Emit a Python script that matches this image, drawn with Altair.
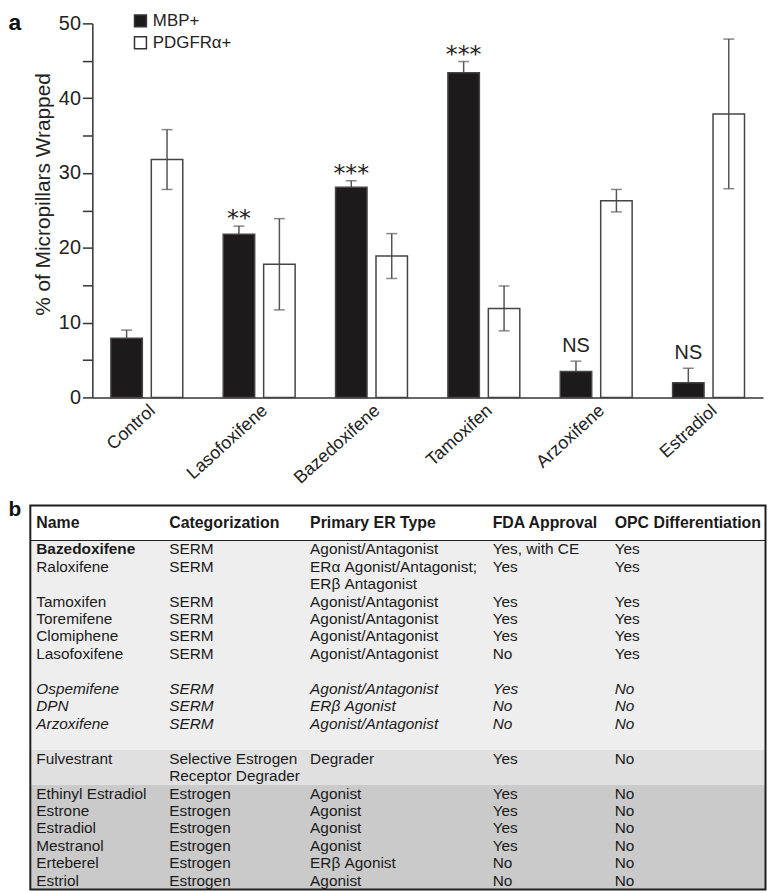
import altair as alt
import pandas as pd

# ---------------- panel a data ----------------
treatments = ["Control", "Lasofoxifene", "Bazedoxifene", "Tamoxifen", "Arzoxifene", "Estradiol"]
series = ["MBP+", "PDGFRα+"]
mbp_mean = [7.9, 21.8, 28.1, 43.4, 3.45, 1.95]
mbp_err = [1.1, 1.1, 0.85, 1.5, 1.4, 1.95]
pdgfr_mean = [31.8, 17.8, 18.9, 11.9, 26.3, 37.9]
pdgfr_err = [4.0, 6.1, 3.0, 3.0, 1.5, 10.0]
significance = ["", "**", "***", "***", "NS", "NS"]

# ---------------- panel b data ----------------
tbl_headers = ["Name", "Categorization", "Primary ER Type", "FDA Approval", "OPC Differentiation"]
tbl_names = ["Bazedoxifene", "Raloxifene", "Tamoxifen", "Toremifene", "Clomiphene", "Lasofoxifene",
             "Ospemifene", "DPN", "Arzoxifene", "Fulvestrant",
             "Ethinyl Estradiol", "Estrone", "Estradiol", "Mestranol", "Erteberel", "Estriol"]
tbl_category = ["SERM", "SERM", "SERM", "SERM", "SERM", "SERM",
                "SERM", "SERM", "SERM", "Selective Estrogen\nReceptor Degrader",
                "Estrogen", "Estrogen", "Estrogen", "Estrogen", "Estrogen", "Estrogen"]
tbl_ertype = ["Agonist/Antagonist", "ERα Agonist/Antagonist;\nERβ Antagonist", "Agonist/Antagonist",
              "Agonist/Antagonist", "Agonist/Antagonist", "Agonist/Antagonist",
              "Agonist/Antagonist", "ERβ Agonist", "Agonist/Antagonist", "Degrader",
              "Agonist", "Agonist", "Agonist", "Agonist", "ERβ Agonist", "Agonist"]
tbl_fda = ["Yes, with CE", "Yes", "Yes", "Yes", "Yes", "No",
           "Yes", "No", "No", "Yes",
           "Yes", "Yes", "Yes", "Yes", "No", "No"]
tbl_opc = ["Yes", "Yes", "Yes", "Yes", "Yes", "Yes",
           "No", "No", "No", "No",
           "No", "No", "No", "No", "No", "No"]
tbl_group = [1, 1, 1, 1, 1, 1, 2, 2, 2, 3, 4, 4, 4, 4, 4, 4]
group_blank_after = {1: 1, 2: 1, 3: 0, 4: 0}
group_fill = {1: "#eeeeee", 2: "#eeeeee", 3: "#e0e0e0", 4: "#cacaca"}

FONT = "Liberation Sans"
INK = "#222222"

# ---------------- panel a ----------------
rows = []
for i, t in enumerate(treatments):
    rows.append(dict(treatment=t, series=series[0], mean=mbp_mean[i], err=mbp_err[i], sig=significance[i]))
    rows.append(dict(treatment=t, series=series[1], mean=pdgfr_mean[i], err=pdgfr_err[i], sig=""))
bars = pd.DataFrame(rows)
bars["lo"] = bars["mean"] - bars["err"]
bars["hi"] = bars["mean"] + bars["err"]

x_enc = alt.X("treatment:N", sort=treatments,
              scale=alt.Scale(paddingInner=0.36, paddingOuter=0.165),
              axis=alt.Axis(title=None, labelAngle=318, labelAlign="right", labelBaseline="top",
                            labelFontSize=18, labelFont=FONT, labelColor=INK, labelPadding=4,
                            labelOffset=0, ticks=False, domainColor="#333333", domainWidth=1.5))
xo_enc = alt.XOffset("series:N", sort=series, scale=alt.Scale(paddingInner=0.222, paddingOuter=0))
y_scale = alt.Scale(domain=[0, 50], nice=False, zero=True)
y_axis = alt.Axis(title="% of Micropillars Wrapped", values=list(range(0, 55, 5)),
                  labelExpr="datum.value % 10 === 0 ? datum.label : ''",
                  grid=False, tickSize=10, tickWidth=1.5, tickColor="#333333",
                  domainColor="#333333", domainWidth=1.5,
                  labelFontSize=20, labelFont=FONT, labelColor=INK, labelPadding=2,
                  titleFontSize=21, titleFont=FONT, titleFontWeight="normal", titleColor=INK,
                  titlePadding=5, titleY=172)

base = alt.Chart(bars).encode(x=x_enc, xOffset=xo_enc)

err_rule = base.mark_rule(color="#555555", strokeWidth=1.5).encode(
    y=alt.Y("lo:Q", scale=y_scale, axis=y_axis), y2="hi:Q")
cap_hi = base.mark_tick(color="#555555", thickness=1.5, size=11).encode(
    y=alt.Y("hi:Q", scale=y_scale, axis=y_axis))
cap_lo = base.mark_tick(color="#555555", thickness=1.5, size=11).encode(
    y=alt.Y("lo:Q", scale=y_scale, axis=y_axis))
bar = base.mark_bar(stroke="#444444", strokeWidth=1.5).encode(
    y=alt.Y("mean:Q", scale=y_scale, axis=y_axis),
    fill=alt.Fill("series:N", sort=series,
                  scale=alt.Scale(domain=series, range=["#1c1a1a", "rgba(255,255,255,0)"]),
                  legend=alt.Legend(title=None, orient="none", legendX=40, legendY=-11,
                                    symbolType="square", symbolSize=144,
                                    symbolStrokeColor="#333333", symbolStrokeWidth=1.5,
                                    labelFontSize=17, labelFont=FONT, labelColor=INK,
                                    labelOffset=4, rowPadding=3, padding=0)))
stars = base.transform_filter("indexof(datum.sig, '*') >= 0").mark_text(
    font="DejaVu Sans", fontSize=24, baseline="alphabetic", dy=0, color=INK).encode(
    y=alt.Y("hi:Q", scale=y_scale, axis=y_axis), text="sig:N")
ns = base.transform_filter("datum.sig == 'NS'").mark_text(
    font=FONT, fontSize=20, baseline="alphabetic", dy=-9, color=INK).encode(
    y=alt.Y("hi:Q", scale=y_scale, axis=y_axis), text="sig:N")
label_a = alt.Chart(pd.DataFrame({"lab": ["a"]})).mark_text(
    font=FONT, fontSize=23, fontWeight="bold", align="left", baseline="alphabetic", color="#111111").encode(
    x=alt.value(-84.5), y=alt.value(6.5), text="lab:N")

panel_a = alt.layer(err_rule, cap_hi, cap_lo, bar, stars, ns, label_a).properties(width=676, height=377)

# ---------------- panel b ----------------
recs = []
bands = []
line = 0
cur_group = None
group_start = 0
for i, nm in enumerate(tbl_names):
    g = tbl_group[i]
    if g != cur_group:
        cur_group = g
        group_start = line
    cells = [nm, tbl_category[i], tbl_ertype[i], tbl_fda[i], tbl_opc[i]]
    nlines = max(len(c.split("\n")) for c in cells)
    for c, cell in enumerate(cells):
        for k, part in enumerate(cell.split("\n")):
            if g == 2:
                style = "italic"
            elif i == 0 and c == 0:
                style = "bold"
            else:
                style = "normal"
            recs.append(dict(line=line + k, col=c, text=part, style=style))
    line += nlines
    last_of_group = (i == len(tbl_names) - 1) or (tbl_group[i + 1] != g)
    if last_of_group:
        line += group_blank_after[g]
        y0, y1 = group_start - 0.5, line - 0.5
        if bands and bands[-1]["fill"] == group_fill[g]:
            bands[-1]["y1"] = y1  # merge shading of consecutive groups with the same tone
        else:
            bands.append(dict(y0=y0, y1=y1, x0=-1, x1=len(tbl_headers), fill=group_fill[g]))

cells_df = pd.DataFrame(recs)
bands_df = pd.DataFrame(bands)
y_min = -2.5
y_max = line - 0.5
header_df = pd.DataFrame(dict(line=[-1.5] * len(tbl_headers), col=list(range(len(tbl_headers))), text=tbl_headers))
frame_df = pd.DataFrame(dict(y0=[y_min], y1=[y_max], x0=[-1], x1=[len(tbl_headers)], sep=[-0.5]))

xs = alt.Scale(domain=[-1, 0, 1, 2, 3, 4, 5], range=[-62.5, -56.5, 77.5, 219.5, 403.5, 526.5, 678.5],
               nice=False, zero=False)
ys = alt.Scale(domain=[y_min, y_max], reverse=True, nice=False, zero=False)

band_layer = alt.Chart(bands_df).mark_rect().encode(
    x=alt.X("x0:Q", scale=xs, axis=None), x2="x1:Q",
    y=alt.Y("y0:Q", scale=ys, axis=None), y2="y1:Q",
    fill=alt.Fill("fill:N", scale=None))
frame_layer = alt.Chart(frame_df).mark_rect(fill="transparent", stroke="#1e1e1e", strokeWidth=2).encode(
    x=alt.X("x0:Q", scale=xs, axis=None), x2="x1:Q",
    y=alt.Y("y0:Q", scale=ys, axis=None), y2="y1:Q")
sep_layer = alt.Chart(frame_df).mark_rule(color="#1e1e1e", strokeWidth=1.2).encode(
    x=alt.X("x0:Q", scale=xs, axis=None), x2="x1:Q",
    y=alt.Y("sep:Q", scale=ys, axis=None))


def text_layer(df, **kw):
    return alt.Chart(df).mark_text(align="left", baseline="middle", font=FONT, color="#1a1a1a", **kw).encode(
        x=alt.X("col:Q", scale=xs, axis=None), y=alt.Y("line:Q", scale=ys, axis=None), text="text:N")


t_normal = text_layer(cells_df[cells_df["style"] == "normal"], fontSize=15.5)
t_bold = text_layer(cells_df[cells_df["style"] == "bold"], fontSize=15.5, fontWeight="bold")
t_italic = text_layer(cells_df[cells_df["style"] == "italic"], fontSize=15.5, fontStyle="italic")
t_head = text_layer(header_df, fontSize=16, fontWeight="bold")
label_b = alt.Chart(pd.DataFrame({"lab": ["b"]})).mark_text(
    font=FONT, fontSize=21, fontWeight="bold", align="left", baseline="top", color="#111111").encode(
    x=alt.value(-84.5), y=alt.value(-6), text="lab:N")

panel_b = alt.layer(band_layer, frame_layer, sep_layer, t_normal, t_bold, t_italic, t_head, label_b).properties(
    width=676, height=387)

chart = alt.vconcat(panel_a, panel_b, spacing=12).properties(
    padding={"left": 0, "top": 0, "right": 0, "bottom": 0}
).configure(font=FONT).configure_view(strokeWidth=0)

chart.save("out.html", embed_options={"renderer": "svg", "actions": False})
